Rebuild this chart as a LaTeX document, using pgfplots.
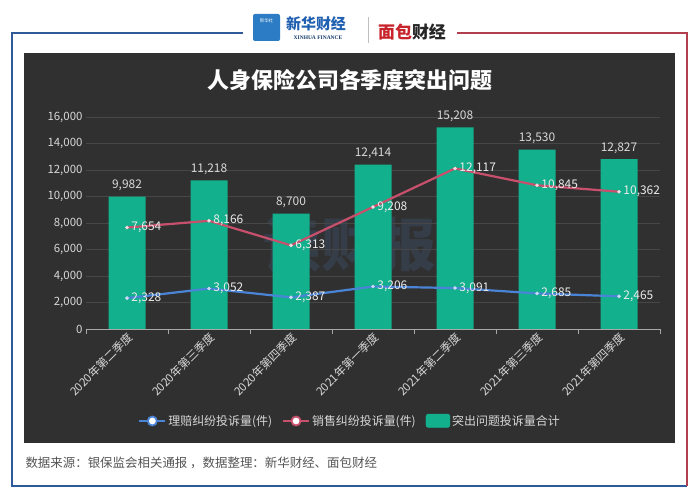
\documentclass[border=0pt]{standalone}
\usepackage{fontspec}
\usepackage{pgfplots}
\pgfplotsset{compat=1.18}
\setmainfont{Noto Sans CJK SC}
\newfontfamily\seriffont{Liberation Serif}
\definecolor{panel}{HTML}{303030}
\definecolor{barc}{HTML}{12B08C}
\definecolor{redl}{HTML}{C9506C}
\definecolor{bluel}{HTML}{4A84D6}
\definecolor{txt}{HTML}{D8D8D8}
\definecolor{gridc}{HTML}{474747}
\definecolor{axisc}{HTML}{A8A8A8}
\definecolor{frameblue}{HTML}{2E5A9C}
\definecolor{framered}{HTML}{B0404E}
\definecolor{logoblue}{HTML}{2B7CC4}
\definecolor{xhblue}{HTML}{2060B0}
\definecolor{mbred}{HTML}{C8242C}
\definecolor{srcgray}{HTML}{555555}
\definecolor{wmark}{HTML}{4A6FA0}
\begin{document}
\begin{tikzpicture}[x=1bp,y=1bp]
\fill[white] (0,0) rectangle (700,498);
\draw[frameblue, line width=1.5bp] (243,465) -- (12,465) -- (12,12) -- (687,12);
\draw[framered, line width=1.5bp] (457,465) -- (687,465) -- (687,12);
% logos
\fill[logoblue, rounded corners=2bp] (253,457) rectangle (280,484);
\node[white, font=\fontsize{4.5}{5}\selectfont] at (266.5,477) {新华社};
\node[text=xhblue, font=\fontsize{15}{16}\selectfont\bfseries] at (316,474) {新华财经};
\node[text=xhblue!60!black, font=\fontsize{5.5}{6}\selectfont\seriffont\bfseries] at (318,460) {XINHUA FINANCE};
\draw[gray!50, line width=0.8bp] (368,455) -- (368,481);
\node[font=\fontsize{17}{18}\selectfont\bfseries] at (412,466) {\textcolor{mbred}{面包}\textcolor{black!85}{财经}};
% panel
\fill[panel] (24,55) rectangle (675,445);
\node[white, font=\fontsize{22}{26}\selectfont\bfseries] at (350,418) {人身保险公司各季度突出问题};
\node[text=wmark, opacity=0.22, font=\fontsize{58}{60}\selectfont\bfseries] at (350,253) {读财报};
\node[anchor=west, text=srcgray, font=\fontsize{12.5}{15}\selectfont] at (22,35) {数据来源：银保监会相关通报 ，数据整理：新华财经、面包财经};
\begin{axis}[
  at={(86bp,169bp)}, anchor=south west, scale only axis,
  width=574bp, height=212bp,
  xmin=-0.5, xmax=6.5, ymin=0, ymax=16000,
  clip=false,
  axis x line*=bottom, axis y line*=left,
  y axis line style={draw=none},
  x axis line style={draw=axisc, line width=0.8bp},
  xtick={0,...,6},
  xticklabels={2020年第二季度,2020年第三季度,2020年第四季度,2021年第一季度,2021年第二季度,2021年第三季度,2021年第四季度},
  xticklabel style={rotate=45, anchor=north east, text=txt, font=\fontsize{11.5}{13}\selectfont, inner sep=1.5bp},
  minor xtick={-0.5,0.5,...,6.5},
  major tick length=0pt, minor tick length=5bp, tick align=outside,
  minor x tick style={draw=axisc, line width=0.8bp},
  ytick={0,2000,...,16000},
  scaled y ticks=false,
  ymajorgrids, grid style={gridc, line width=0.6bp},
  yticklabel style={text=txt, font=\fontsize{11.5}{13}\selectfont, /pgf/number format/.cd, fixed, precision=0, 1000 sep={,}},
  /pgf/number format/.cd, 1000 sep={,}, fixed, precision=0, assume math mode=true,
  /pgfplots/.cd,
  legend style={at={(0.46,-0.434)}, anchor=center, draw=none, fill=none, text=txt,
    font=\fontsize{12}{14}\selectfont, legend columns=-1,
    /tikz/every even column/.append style={column sep=8bp}},
]
\addplot[ybar, bar width=37bp, fill=barc, draw=none, forget plot,
  nodes near coords,
  every node near coord/.append style={text=txt, font=\fontsize{12}{14}\selectfont, anchor=south, yshift=2bp}]
  coordinates {(0,9982) (1,11218) (2,8700) (3,12414) (4,15208) (5,13530) (6,12827)};
\addplot[redl, line width=2.2bp, mark=*, mark size=1.7bp,
  mark options={fill=white!80!redl, draw=white!80!redl, line width=0.3bp}, forget plot,
  nodes near coords,
  every node near coord/.append style={anchor=west, text=white!92!black, font=\fontsize{12}{14}\selectfont, xshift=1bp}]
  coordinates {(0,7654) (1,8166) (2,6313) (3,9208) (4,12117) (5,10845) (6,10362)};
\addplot[bluel, line width=2.2bp, mark=*, mark size=1.7bp,
  mark options={fill=white!70!bluel, draw=white!70!bluel, line width=0.3bp}, forget plot,
  nodes near coords,
  every node near coord/.append style={anchor=west, text=white!92!black, font=\fontsize{12}{14}\selectfont, xshift=1bp}]
  coordinates {(0,2328) (1,3052) (2,2387) (3,3206) (4,3091) (5,2685) (6,2465)};
\addlegendimage{legend image code/.code={
  \draw[bluel, line width=2bp] (0bp,0bp) -- (26bp,0bp);
  \draw[bluel, fill=white, line width=1.8bp] (13bp,0bp) circle (4.5bp);}}
\addlegendentry{理赔纠纷投诉量(件)}
\addlegendimage{legend image code/.code={
  \draw[redl, line width=2bp] (0bp,0bp) -- (26bp,0bp);
  \draw[redl, fill=white, line width=1.8bp] (13bp,0bp) circle (4.5bp);}}
\addlegendentry{销售纠纷投诉量(件)}
\addlegendimage{legend image code/.code={
  \fill[barc, rounded corners=2.5bp] (0bp,-6.5bp) rectangle (24bp,7bp);}}
\addlegendentry{突出问题投诉量合计}
\end{axis}
\end{tikzpicture}
\end{document}
